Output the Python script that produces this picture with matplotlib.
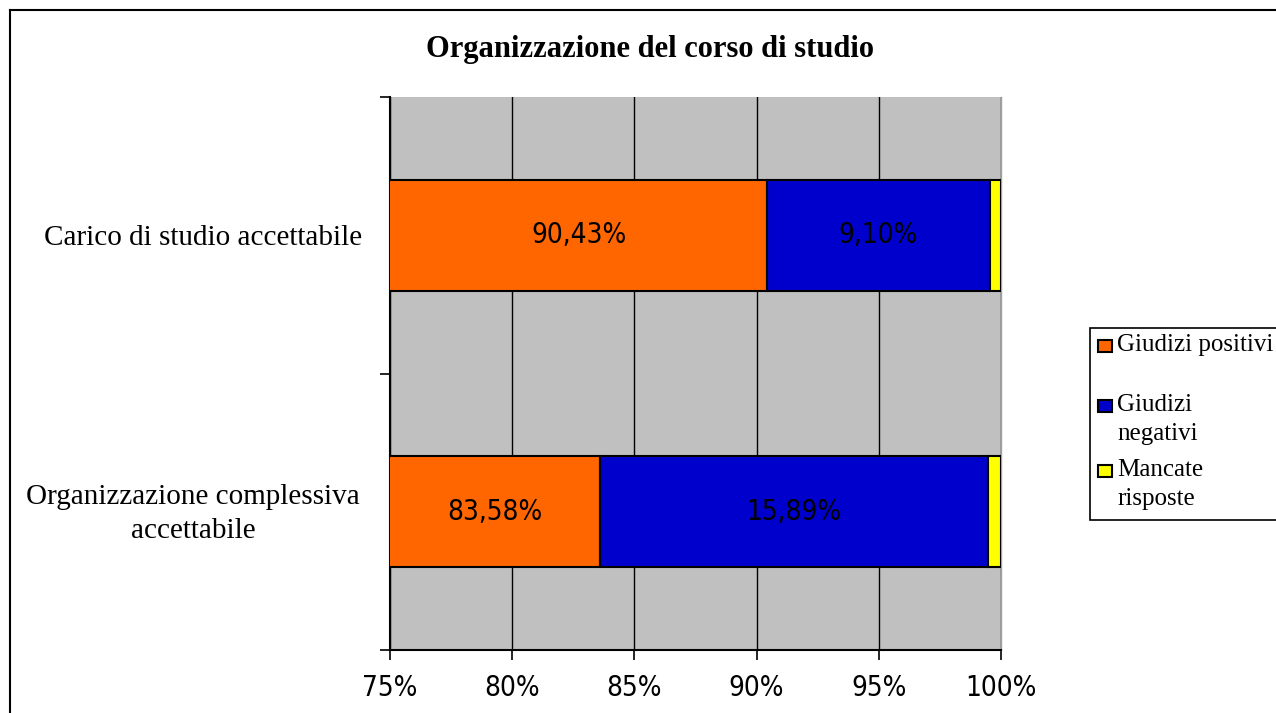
import matplotlib
matplotlib.use("Agg")
import matplotlib.pyplot as plt
from matplotlib.patches import Rectangle
from matplotlib.ticker import FuncFormatter
import numpy as np

categories = ["Carico di studio accettabile", "Organizzazione complessiva\naccettabile"]
series = ["Giudizi positivi", "Giudizi negativi", "Mancate risposte"]
legend_labels = ["Giudizi positivi", "Giudizi\nnegativi", "Mancate\nrisposte"]
positivi = [90.43, 83.58]
negativi = [9.10, 15.89]
mancate = [0.47, 0.53]
colors = ["#FF6600", "#0000CC", "#FFFF00"]
xticks = [75, 80, 85, 90, 95, 100]

W, H = 1276, 713
fig = plt.figure(figsize=(W / 100, H / 100), dpi=100)
fig.patch.set_facecolor("white")

def fx(px):
    return px / W

def fy(py):
    return 1 - py / H

ax = fig.add_axes([fx(390), fy(650), fx(1001) - fx(390), fy(97) - fy(650)])
ax.set_facecolor("#C0C0C0")

y = np.array([1, 0])
vals = [positivi, negativi, mancate]
left = np.zeros(2)
for s, v, c in zip(series, vals, colors):
    v = np.array(v)
    ax.barh(y, v, left=left, height=0.40, color=c, edgecolor="black", linewidth=1.5, zorder=3, label=s)
    left = left + v

ax.set_xlim(75, 100)
ax.set_ylim(-0.5, 1.5)

num_font = dict(family="DejaVu Sans", fontstretch="condensed", fontsize=20)

xmin = 75
for i in range(2):
    l0 = max(0, xmin)
    r0 = positivi[i]
    ax.text((l0 + r0) / 2, y[i], f"{positivi[i]:.2f}%".replace(".", ","), ha="center", va="center",
            color="#000000", zorder=5, **num_font)
    l1 = positivi[i]
    r1 = positivi[i] + negativi[i]
    ax.text((l1 + r1) / 2, y[i], f"{negativi[i]:.2f}%".replace(".", ","), ha="center", va="center",
            color="#000000", zorder=5, **num_font)

ax.set_xticks(xticks)
ax.xaxis.set_major_formatter(FuncFormatter(lambda v, p: f"{int(v)}%"))
ax.grid(axis="x", color="black", linewidth=1, zorder=1)
ax.set_axisbelow(True)

ax.set_yticks([-0.5, 0.5, 1.5])
ax.set_yticklabels([])
ax.tick_params(axis="y", length=7, width=1.2, direction="out")
ax.tick_params(axis="x", length=7, width=1.2, direction="out", pad=10)
for lab in ax.get_xticklabels():
    lab.set_family("DejaVu Sans")
    lab.set_fontstretch("condensed")
    lab.set_fontsize(20)

for sp in ["left", "bottom"]:
    ax.spines[sp].set_linewidth(1.5)
    ax.spines[sp].set_color("black")
ax.spines["top"].set_visible(False)
ax.spines["right"].set_color("#A0A0A0")
ax.spines["right"].set_linewidth(1)

# category labels
cat_font = dict(family="Liberation Serif", fontsize=21)
fig.text(fx(362), fy(238), categories[0], ha="right", va="center", **cat_font)
fig.text(fx(193), fy(514), categories[1], ha="center", va="center", linespacing=1.35, **cat_font)

# title
fig.text(fx(650), fy(50), "Organizzazione del corso di studio", ha="center", va="center",
         family="Liberation Serif", fontweight="bold", fontsize=22)

# figure border (top and left)
fig.add_artist(plt.Line2D([fx(10), fx(10)], [fy(10), 0], color="black", lw=1.5, transform=fig.transFigure))
fig.add_artist(plt.Line2D([fx(10), 1], [fy(10), fy(10)], color="black", lw=1.5, transform=fig.transFigure))

# legend box
fig.add_artist(Rectangle((fx(1090), fy(520)), fx(1290) - fx(1090), fy(328) - fy(520), transform=fig.transFigure,
                         facecolor="white", edgecolor="black", lw=1.2))
entries_y = [346, 406, 471]
for lab, c, yy in zip(legend_labels, colors, entries_y):
    fig.add_artist(Rectangle((fx(1098), fy(yy + 6)), fx(1112) - fx(1098), fy(yy - 6) - fy(yy + 6),
                             transform=fig.transFigure, facecolor=c, edgecolor="black", lw=1.5))
    for k, line in enumerate(lab.split("\n")):
        fig.text(fx(1117), fy(yy - 1 + 29 * k), line, ha="left", va="center",
                 family="Liberation Serif", fontsize=18)

fig.savefig("out.png", dpi=100)
